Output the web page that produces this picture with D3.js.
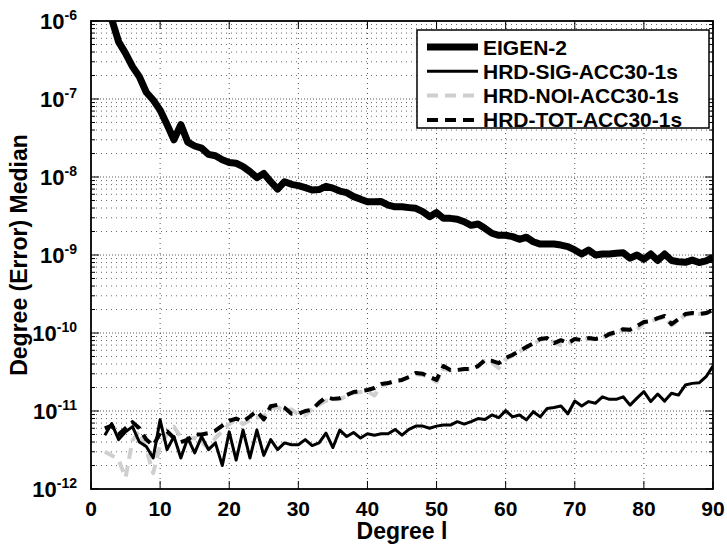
<!DOCTYPE html>
<html>
<head>
<meta charset="utf-8">
<script src="https://cdn.jsdelivr.net/npm/d3@7"></script>
<style>
  html, body { margin: 0; padding: 0; background: #fff; }
  svg { display: block; font-family: "Liberation Sans", Arial, Helvetica, sans-serif; font-weight: bold; }
</style>
</head>
<body>
<div id="chart"></div>
<script>
'use strict';

// spherical harmonic degree 2..90
var degrees = d3.range(2, 91);

var eigen2 = [
  2.5e-6, 1.05e-6, 5.4e-7, 3.85e-7, 2.6e-7, 1.93e-7, 1.22e-7, 9.7e-8, 7.2e-8, 4.7e-8,
  3.0e-8, 4.7e-8, 2.8e-8, 2.5e-8, 2.34e-8, 1.95e-8, 1.87e-8, 1.66e-8, 1.53e-8, 1.5e-8,
  1.36e-8, 1.17e-8, 9.8e-9, 1.11e-8, 8.7e-9, 7.0e-9, 8.7e-9, 8.05e-9, 7.76e-9, 7.3e-9,
  6.8e-9, 6.9e-9, 7.6e-9, 7.2e-9, 6.6e-9, 6.3e-9, 5.6e-9, 5.2e-9, 4.8e-9, 4.8e-9,
  4.85e-9, 4.37e-9, 4.15e-9, 4.15e-9, 4.05e-9, 3.97e-9, 3.6e-9, 3.1e-9, 3.5e-9, 2.95e-9,
  2.95e-9, 2.88e-9, 2.67e-9, 2.4e-9, 2.5e-9, 2.2e-9, 1.9e-9, 1.79e-9, 1.79e-9, 1.72e-9,
  1.59e-9, 1.69e-9, 1.48e-9, 1.38e-9, 1.38e-9, 1.38e-9, 1.34e-9, 1.28e-9, 1.16e-9, 1.03e-9,
  1.16e-9, 1.0e-9, 1.03e-9, 1.03e-9, 1.05e-9, 1.07e-9, 9.1e-10, 1.0e-9, 8.8e-10, 1.03e-9,
  8.5e-10, 1.03e-9, 8.5e-10, 8.2e-10, 8.05e-10, 8.6e-10, 8.0e-10, 8.4e-10, 9.3e-10
];

var hrdSig = [
  4.9e-12, 6.9e-12, 4.3e-12, 5.4e-12, 6.3e-12, 4.0e-12, 3.5e-12, 2.5e-12, 7.7e-12, 3.2e-12,
  4.7e-12, 2.5e-12, 4.5e-12, 2.9e-12, 4.7e-12, 3.2e-12, 3.9e-12, 2.0e-12, 5.4e-12, 2.35e-12,
  5.7e-12, 2.5e-12, 5.7e-12, 2.7e-12, 4.3e-12, 3.2e-12, 3.9e-12, 3.7e-12, 3.7e-12, 4.3e-12,
  3.6e-12, 3.9e-12, 5.2e-12, 3.4e-12, 5.7e-12, 4.7e-12, 5.3e-12, 4.5e-12, 5.1e-12, 4.9e-12,
  5.1e-12, 5.1e-12, 5.8e-12, 4.9e-12, 5.8e-12, 6.4e-12, 6.4e-12, 6.0e-12, 6.4e-12, 6.6e-12,
  6.6e-12, 7.3e-12, 6.8e-12, 7.3e-12, 8.0e-12, 7.8e-12, 8.9e-12, 8.2e-12, 1.01e-11, 8.4e-12,
  8.9e-12, 7.7e-12, 9.8e-12, 8.4e-12, 1.08e-11, 1.11e-11, 1.16e-11, 9.2e-12, 1.34e-11, 1.16e-11,
  1.32e-11, 1.26e-11, 1.52e-11, 1.41e-11, 1.41e-11, 1.52e-11, 1.19e-11, 1.46e-11, 1.77e-11, 1.32e-11,
  1.65e-11, 1.34e-11, 1.69e-11, 1.6e-11, 2.15e-11, 2.26e-11, 2.3e-11, 2.75e-11, 3.77e-11
];

var hrdNoi = [
  3.0e-12, 2.7e-12, 2.35e-12, 1.4e-12, 4.2e-12, 5.5e-12, 3.2e-12, 1.6e-12, 3.6e-12, 5.0e-12,
  6.3e-12, 4.6e-12, 4.4e-12, 4.5e-12, 4.0e-12, 3.3e-12, 4.5e-12, 5.5e-12, 6.8e-12, 7.8e-12,
  6.8e-12, 7.6e-12, 8.2e-12, 8.6e-12, 1.08e-11, 1.12e-11, 1.0e-11, 1.05e-11, 9.0e-12, 8.8e-12,
  1.05e-11, 1.2e-11, 1.35e-11, 1.4e-11, 1.42e-11, 1.55e-11, 1.7e-11, 1.75e-11, 1.8e-11, 1.58e-11,
  2.1e-11, 2.25e-11, 2.4e-11, 2.5e-11, 2.7e-11, 2.95e-11, 2.9e-11, 2.7e-11, 2.35e-11, 3.5e-11,
  3.3e-11, 3.35e-11, 3.4e-11, 3.45e-11, 3.7e-11, 4.4e-11, 4.2e-11, 3.55e-11, 4.6e-11, 5.1e-11,
  5.8e-11, 6.5e-11, 7.2e-11, 8.2e-11, 8.5e-11, 7.6e-11, 7.0e-11, 7.2e-11, 8.2e-11, 8.0e-11,
  8.4e-11, 8.3e-11, 8.8e-11, 9.4e-11, 1.0e-10, 1.1e-10, 1.08e-10, 1.1e-10, 1.35e-10, 1.4e-10,
  1.52e-10, 1.6e-10, 1.25e-10, 1.45e-10, 1.7e-10, 1.78e-10, 1.75e-10, 1.78e-10, 1.95e-10
];

var hrdTot = [
  6.0e-12, 6.5e-12, 5.0e-12, 6.0e-12, 7.2e-12, 6.0e-12, 4.3e-12, 3.6e-12, 5.2e-12, 5.5e-12,
  4.5e-12, 4.0e-12, 4.3e-12, 5.0e-12, 5.0e-12, 5.2e-12, 5.6e-12, 6.5e-12, 7.5e-12, 8.0e-12,
  7.3e-12, 8.5e-12, 1.0e-11, 7.8e-12, 1.15e-11, 1.2e-11, 1.1e-11, 9.2e-12, 9.2e-12, 1.0e-11,
  1.04e-11, 1.28e-11, 1.5e-11, 1.43e-11, 1.46e-11, 1.6e-11, 1.75e-11, 1.8e-11, 1.86e-11, 1.97e-11,
  2.22e-11, 2.28e-11, 2.43e-11, 2.5e-11, 2.73e-11, 3.07e-11, 3.0e-11, 2.73e-11, 2.5e-11, 3.77e-11,
  3.36e-11, 3.36e-11, 3.45e-11, 3.45e-11, 3.77e-11, 4.5e-11, 4.4e-11, 4.1e-11, 4.8e-11, 5.25e-11,
  5.9e-11, 6.6e-11, 7.4e-11, 8.4e-11, 8.6e-11, 7.4e-11, 8.1e-11, 7.4e-11, 8.4e-11, 8.1e-11,
  8.6e-11, 8.4e-11, 8.6e-11, 9.7e-11, 1.03e-10, 1.12e-10, 1.1e-10, 1.23e-10, 1.38e-10, 1.42e-10,
  1.55e-10, 1.65e-10, 1.3e-10, 1.5e-10, 1.75e-10, 1.8e-10, 1.75e-10, 1.8e-10, 1.97e-10
];

var seriesNames = ['EIGEN-2', 'HRD-SIG-ACC30-1s', 'HRD-NOI-ACC30-1s', 'HRD-TOT-ACC30-1s'];
var xTicks = [0, 10, 20, 30, 40, 50, 60, 70, 80, 90];
var yTickExps = [-12, -11, -10, -9, -8, -7, -6];

var series = [
  { name: seriesNames[0], values: eigen2, color: '#000', width: 7, dash: null },
  { name: seriesNames[1], values: hrdSig, color: '#000', width: 3, dash: null },
  { name: seriesNames[2], values: hrdNoi, color: '#cfcfcf', width: 4, dash: '11,7' },
  { name: seriesNames[3], values: hrdTot, color: '#000', width: 4, dash: '11,7' }
];

var W = 727, H = 547;
var margin = { left: 91, right: 14, top: 21, bottom: 58 };
var pw = W - margin.left - margin.right;
var ph = H - margin.top - margin.bottom;

var svg = d3.select('#chart')
    .append('svg')
    .attr('width', W)
    .attr('height', H);

var x = d3.scaleLinear().domain([0, 90]).range([margin.left, margin.left + pw]);
var y = d3.scaleLog().domain([1e-12, 1e-6]).range([margin.top + ph, margin.top]);

// minor values 2..9 x each decade
var minorVals = [];
yTickExps.slice(0, -1).forEach(function(e) {
    for (var k = 2; k <= 9; k++) minorVals.push(k * Math.pow(10, e));
});

// grid
var grid = svg.append('g').attr('stroke', '#000').attr('stroke-width', 0.8).attr('fill', 'none');
grid.selectAll('line.minor')
    .data(minorVals)
    .enter().append('line')
    .attr('x1', x(0)).attr('x2', x(90))
    .attr('y1', function(d) { return y(d); })
    .attr('y2', function(d) { return y(d); })
    .attr('stroke-dasharray', '1,4')
    .attr('opacity', 0.75);
grid.selectAll('line.ymajor')
    .data(yTickExps.slice(1, -1))
    .enter().append('line')
    .attr('x1', x(0)).attr('x2', x(90))
    .attr('y1', function(d) { return y(Math.pow(10, d)); })
    .attr('y2', function(d) { return y(Math.pow(10, d)); })
    .attr('stroke-dasharray', '1,2')
    .attr('opacity', 0.8);
grid.selectAll('line.xmajor')
    .data(xTicks.slice(1, -1))
    .enter().append('line')
    .attr('x1', function(d) { return x(d); })
    .attr('x2', function(d) { return x(d); })
    .attr('y1', y(1e-12)).attr('y2', y(1e-6))
    .attr('stroke-dasharray', '1,4')
    .attr('opacity', 0.85);

// data lines
svg.append('clipPath').attr('id', 'clip')
    .append('rect')
    .attr('x', margin.left).attr('y', margin.top)
    .attr('width', pw).attr('height', ph);

var line = d3.line()
    .x(function(d) { return x(d[0]); })
    .y(function(d) { return y(d[1]); });

var plot = svg.append('g').attr('clip-path', 'url(#clip)');
// draw order: eigen, noise (grey) under total, signal
[0, 2, 3, 1].forEach(function(i) {
    var s = series[i];
    plot.append('path')
        .datum(degrees.map(function(d, j) { return [d, s.values[j]]; }))
        .attr('d', line)
        .attr('fill', 'none')
        .attr('stroke', s.color)
        .attr('stroke-width', s.width)
        .attr('stroke-linejoin', 'round')
        .attr('stroke-dasharray', s.dash);
});

// ticks (inside, on all four sides)
var tk = svg.append('g').attr('stroke', '#000').attr('stroke-width', 1);
xTicks.forEach(function(t) {
    tk.append('line').attr('x1', x(t)).attr('x2', x(t)).attr('y1', y(1e-12)).attr('y2', y(1e-12) - 8);
    tk.append('line').attr('x1', x(t)).attr('x2', x(t)).attr('y1', y(1e-6)).attr('y2', y(1e-6) + 8);
});
yTickExps.forEach(function(e) {
    var yy = y(Math.pow(10, e));
    tk.append('line').attr('x1', x(0)).attr('x2', x(0) + 8).attr('y1', yy).attr('y2', yy);
    tk.append('line').attr('x1', x(90)).attr('x2', x(90) - 8).attr('y1', yy).attr('y2', yy);
});
minorVals.forEach(function(v) {
    tk.append('line').attr('x1', x(0)).attr('x2', x(0) + 4).attr('y1', y(v)).attr('y2', y(v));
    tk.append('line').attr('x1', x(90)).attr('x2', x(90) - 4).attr('y1', y(v)).attr('y2', y(v));
});

// box
svg.append('rect')
    .attr('x', margin.left).attr('y', margin.top)
    .attr('width', pw).attr('height', ph)
    .attr('fill', 'none')
    .attr('stroke', '#000')
    .attr('stroke-width', 1.8);

// x tick labels
svg.append('g').selectAll('text')
    .data(xTicks)
    .enter().append('text')
    .attr('x', function(d) { return x(d); })
    .attr('y', y(1e-12) + 27)
    .attr('text-anchor', 'middle')
    .style('font-size', '21px')
    .text(function(d) { return d; });

// y tick labels 10^n
var yl = svg.append('g').selectAll('text')
    .data(yTickExps)
    .enter().append('text')
    .attr('x', margin.left - 14)
    .attr('y', function(d) { return y(Math.pow(10, d)) + 8; })
    .attr('text-anchor', 'end')
    .style('font-size', '22px');
yl.append('tspan').text('10');
yl.append('tspan')
    .attr('dy', -9)
    .style('font-size', '14px')
    .text(function(d) { return '-' + Math.abs(d); });

// axis titles
svg.append('text')
    .attr('x', x(45))
    .attr('y', H - 8)
    .attr('text-anchor', 'middle')
    .style('font-size', '23px')
    .text('Degree l');

svg.append('text')
    .attr('transform', 'translate(' + 27 + ',' + (margin.top + ph / 2) + ') rotate(-90)')
    .attr('text-anchor', 'middle')
    .style('font-size', '23px')
    .text('Degree (Error) Median');

// legend
var lg = svg.append('g').attr('transform', 'translate(417,30)');
lg.append('rect')
    .attr('width', 292).attr('height', 98)
    .attr('fill', '#fff')
    .attr('stroke', '#000')
    .attr('stroke-width', 1.5);
series.forEach(function(s, i) {
    var ly = 17 + i * 24.3;
    lg.append('line')
        .attr('x1', 10).attr('x2', 61)
        .attr('y1', ly).attr('y2', ly)
        .attr('stroke', s.color)
        .attr('stroke-width', s.width)
        .attr('stroke-dasharray', s.dash);
    lg.append('text')
        .attr('x', 66)
        .attr('y', ly + 7.5)
        .style('font-size', '21px')
        .text(s.name);
});
</script>
</body>
</html>
